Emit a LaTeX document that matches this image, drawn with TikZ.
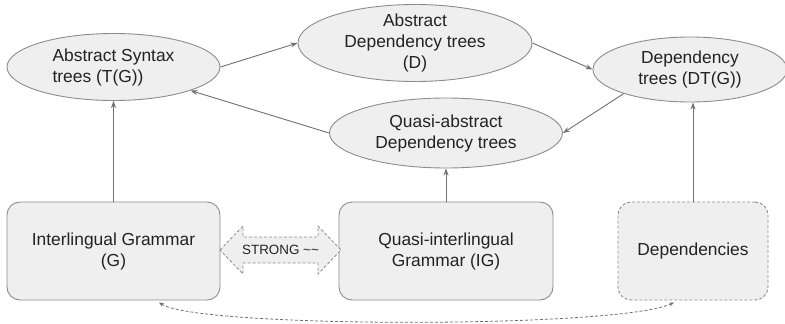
\documentclass[tikz,border=0pt]{standalone}
\usepackage{fontspec}
\setmainfont{Liberation Sans}
\usetikzlibrary{shapes.geometric,arrows.meta,calc}
\definecolor{nodefill}{HTML}{EFEFEF}
\definecolor{edgegray}{HTML}{8C8C8C}
\definecolor{linkgray}{HTML}{707070}
\definecolor{inkgray}{HTML}{222222}

\begin{document}
\begin{tikzpicture}[x=1pt,y=-1pt,
  every node/.style={font=\fontsize{17.4}{21}\selectfont, text=inkgray},
  tree/.style={ellipse, draw=edgegray, fill=nodefill, line width=0.9pt,
    inner xsep=0pt, inner ysep=-8pt, align=center},
  gram/.style={rectangle, rounded corners=13pt, draw=edgegray, fill=nodefill,
    line width=0.9pt, minimum height=98, align=center},
  softdash/.style={dash pattern=on 3pt off 2pt},
  link/.style={draw=linkgray, line width=0.9pt, -{Stealth[length=7pt,width=5pt]}},
]
\useasboundingbox (0,0) rectangle (785,324);

% tree representations
\node[tree, minimum width=213, minimum height=67, align=left] (ast) at (113.5,67)
  {Abstract Syntax\\trees (T(G))};
\node[tree, minimum width=234, minimum height=77] (absdep) at (415,43)
  {Abstract\\Dependency trees\\(D)};
\node[tree, minimum width=194, minimum height=65] (dt) at (690,69.5)
  {Dependency\\trees (DT(G))};
\node[tree, minimum width=233, minimum height=70] (quasi) at (446,133)
  {Quasi-abstract\\Dependency trees};

% grammars
\node[gram, minimum width=213] (ig) at (113.5,251) {Interlingual Grammar\\(G)};
\node[gram, minimum width=214] (qig) at (446,251) {Quasi-interlingual\\Grammar (IG)};
\node[gram, softdash, minimum width=150] (deps) at (693,251) {Dependencies};

% strong equivalence double arrow
\draw[edgegray, softdash, line width=0.8pt, fill=nodefill]
  (220,250) -- (243,226) -- (243,237) -- (318,237) -- (318,226) -- (341,250)
  -- (318,274) -- (318,263) -- (243,263) -- (243,274) -- cycle;
\node[font=\fontsize{13.4}{16}\selectfont] (strong) at (280.5,250)
  {STRONG \textasciitilde\textasciitilde};

% mappings
\draw[link] (ig) -- (ast);
\draw[link] (qig) -- (quasi);
\draw[link] (deps.north) -- (deps.north |- dt.south);
\draw[link] (ast.east) -- (absdep.west);
\draw[link] (absdep.east) -- (dt.west);
\draw[link] (dt.200) -- (quasi.east);
\draw[link] (quasi.west) -- (ast.-17);

% correspondence between grammar and dependencies
\draw[linkgray, softdash, line width=0.8pt,
  {Stealth[length=5pt,width=4pt]}-{Stealth[length=5pt,width=4pt]}]
  ([xshift=45.5pt,yshift=-2pt]ig.south) .. controls +(40,26) and +(-54,26)
  .. ([xshift=-19pt,yshift=-2pt]deps.south);
\end{tikzpicture}
\end{document}
